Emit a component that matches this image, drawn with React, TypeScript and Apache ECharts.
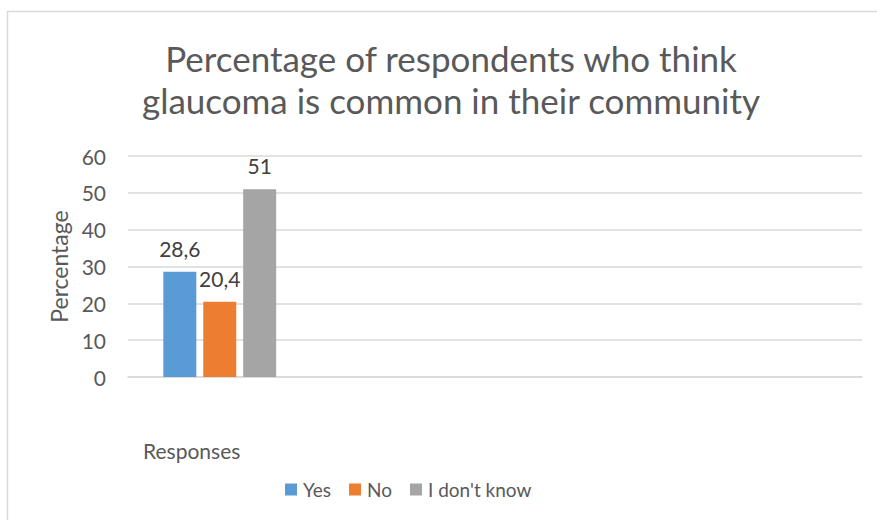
import React, { useEffect, useRef } from "react";
import * as echarts from "echarts";

const categories = ["Responses", "", "", ""];
const seriesNames = ["Yes", "No", "I don't know"];
const yesValues = [28.6, null, null, null];
const noValues = [20.4, null, null, null];
const dontKnowValues = [51, null, null, null];
const yTicks = { min: 0, max: 60, interval: 10 };
const colors = ["#5B9BD5", "#ED7D31", "#A5A5A5"];

const FONT = "Lato, 'Open Sans', sans-serif";

export default function App() {
  const ref = useRef<HTMLDivElement>(null);
  useEffect(() => {
    if (!ref.current) return;
    const chart = echarts.init(ref.current, null, { renderer: "svg" });
    const values = [yesValues, noValues, dontKnowValues];
    chart.setOption({
      animation: false,
      backgroundColor: "#ffffff",
      textStyle: { fontFamily: FONT },
      title: {
        text: "Percentage of respondents who think\nglaucoma is common in their community",
        left: 446,
        top: 32,
        textAlign: "center",
        textStyle: {
          fontFamily: FONT,
          fontSize: 35,
          fontWeight: "normal",
          color: "#595959",
          lineHeight: 42,
        },
      },
      legend: {
        data: seriesNames,
        left: 280,
        top: 475,
        itemWidth: 12,
        itemHeight: 12,
        itemGap: 18,
        icon: "rect",
        textStyle: { fontFamily: FONT, fontSize: 19, color: "#595959", padding: [0, 0, 0, 1] },
      },
      grid: { left: 128, right: 15, top: 156, bottom: 143, containLabel: false },
      xAxis: {
        type: "category",
        data: categories,
        axisLine: { show: true, lineStyle: { color: "#d9d9d9", width: 1.5 } },
        axisTick: { show: false },
        axisLabel: { show: false },
      },
      yAxis: {
        type: "value",
        min: yTicks.min,
        max: yTicks.max,
        interval: yTicks.interval,
        name: "Percentage",
        nameLocation: "middle",
        nameRotate: 90,
        nameGap: 56,
        nameTextStyle: { fontFamily: FONT, fontSize: 23, color: "#595959" },
        axisLine: { show: false },
        axisTick: { show: false },
        axisLabel: { fontFamily: FONT, fontSize: 21, color: "#595959", margin: 22 },
        splitLine: { lineStyle: { color: "#d9d9d9", width: 1.5 } },
      },
      graphic: [
        {
          type: "rect",
          silent: true,
          shape: { x: 7.5, y: 11.5, width: 1000, height: 1000 },
          style: { fill: "none", stroke: "#d9d9d9", lineWidth: 1.5 },
        },
        {
          type: "text",
          left: 143,
          top: 440,
          style: { text: "Responses", fontFamily: FONT, fontSize: 21, fill: "#595959" },
        },
      ],
      series: seriesNames.map((name, i) => ({
        name,
        type: "bar",
        data: values[i],
        barWidth: 33,
        barGap: "21%",
        itemStyle: { color: colors[i] },
        label: {
          show: true,
          position: "top",
          distance: 13,
          fontFamily: FONT,
          fontSize: 21,
          color: "#404040",
          formatter: (p: any) => String(p.value).replace(".", ","),
        },
      })),
    });
    return () => chart.dispose();
  }, []);
  return (
    <div
      ref={ref}
      style={{ position: "fixed", left: 0, top: 0, width: 877, height: 520 }}
    />
  );
}
